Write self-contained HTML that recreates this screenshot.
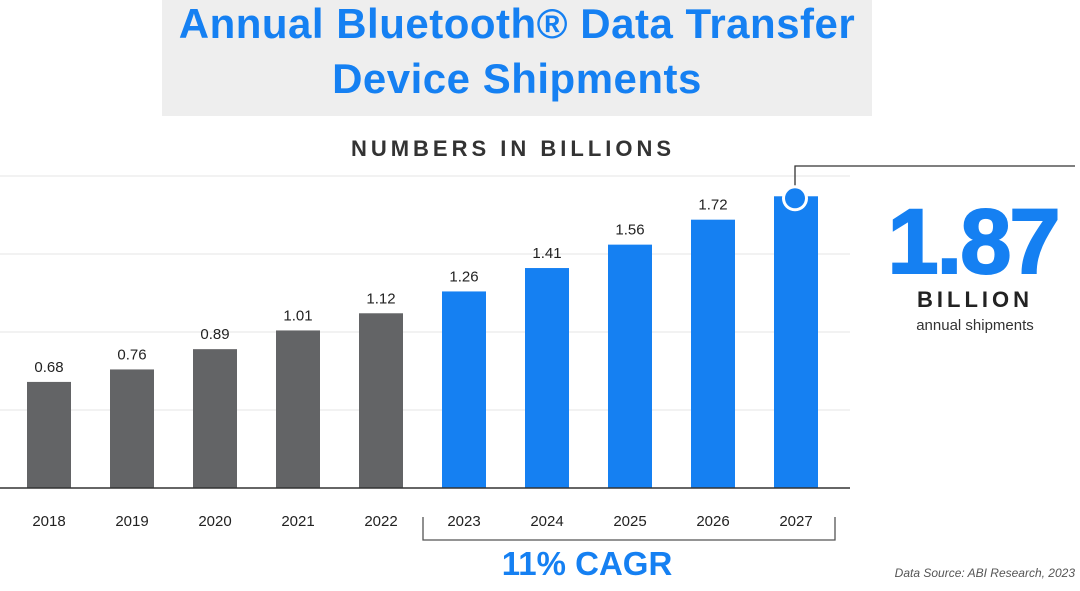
<!DOCTYPE html>
<html><head><meta charset="utf-8"><style>
body{margin:0;width:1080px;height:586px;background:#fff;overflow:hidden;font-family:"Liberation Sans",sans-serif}
</style></head><body>
<svg width="1080" height="586">
<rect x="162" y="0" width="710" height="116" fill="#eeeeee"/>
<text x="517" y="38" text-anchor="middle" font-size="42" font-weight="bold" letter-spacing="0.5" fill="#1580f2">Annual Bluetooth® Data Transfer</text>
<text x="517" y="93" text-anchor="middle" font-size="42" font-weight="bold" letter-spacing="0.5" fill="#1580f2">Device Shipments</text>
<text x="513" y="156" text-anchor="middle" font-size="22" font-weight="bold" letter-spacing="4" fill="#333">NUMBERS IN BILLIONS</text>
<g id="grid"></g><g id="bars"></g>
<line x1="0" y1="488" x2="850" y2="488" stroke="#333" stroke-width="1.5"/>
<polyline points="795,186 795,166 1075,166" fill="none" stroke="#333" stroke-width="1.3"/>
<circle id="dot" cx="795" cy="197" r="13" fill="#fff"/>
<circle id="dot2" cx="795" cy="197" r="10" fill="#1580f2"/>
<text x="973" y="273" text-anchor="middle" font-size="92" font-weight="bold" letter-spacing="-2" fill="#1580f2" stroke="#1580f2" stroke-width="2">1.87</text>
<text x="975" y="307" text-anchor="middle" font-size="22" font-weight="bold" letter-spacing="4" fill="#222">BILLION</text>
<text x="975" y="330" text-anchor="middle" font-size="15" fill="#333">annual shipments</text>
<polyline points="423,517 423,540 835,540 835,517" fill="none" stroke="#555" stroke-width="1.3"/>
<text x="587" y="575" text-anchor="middle" font-size="33" font-weight="bold" fill="#1580f2">11% CAGR</text>
<text x="1075" y="577" text-anchor="end" font-size="12" font-style="italic" fill="#555">Data Source: ABI Research, 2023</text>
</svg>
<script>
const years=["2018","2019","2020","2021","2022","2023","2024","2025","2026","2027"];
const values=[0.68,0.76,0.89,1.01,1.12,1.26,1.41,1.56,1.72,1.87];
const forecast=[false,false,false,false,false,true,true,true,true,true];
const gridTicks=[0.5,1.0,1.5,2.0];
const NS="http://www.w3.org/2000/svg";
const y=v=>488-v*156;
const x=i=>49+i*83;
const grid=document.getElementById('grid'),bars=document.getElementById('bars');
gridTicks.forEach(t=>{const l=document.createElementNS(NS,'line');
l.setAttribute('x1',0);l.setAttribute('x2',850);l.setAttribute('y1',y(t));l.setAttribute('y2',y(t));
l.setAttribute('stroke','#e6e6e6');


grid.appendChild(l);});
years.forEach((yr,i)=>{const r=document.createElementNS(NS,'rect');
const last=i===years.length-1;
r.setAttribute('x',x(i)-22);r.setAttribute('width',44);
r.setAttribute('y',y(values[i]));r.setAttribute('height',488-y(values[i]));
r.setAttribute('fill',forecast[i]?'#1580f2':'#636466');


bars.appendChild(r);
if(!last){const t=document.createElementNS(NS,'text');
t.setAttribute('x',x(i));t.setAttribute('y',y(values[i])-10);t.setAttribute('text-anchor','middle');
t.setAttribute('font-size','15');t.setAttribute('fill','#222');t.textContent=values[i].toFixed(2);


bars.appendChild(t);}
const xl=document.createElementNS(NS,'text');
xl.setAttribute('x',x(i));xl.setAttribute('y',526);xl.setAttribute('text-anchor','middle');
xl.setAttribute('font-size','15');xl.setAttribute('fill','#222');xl.textContent=yr;


bars.appendChild(xl);});
const dy=y(values[values.length-1])+2;
document.getElementById('dot').setAttribute('cy',dy);
document.getElementById('dot2').setAttribute('cy',dy);
</script>
</body></html>
